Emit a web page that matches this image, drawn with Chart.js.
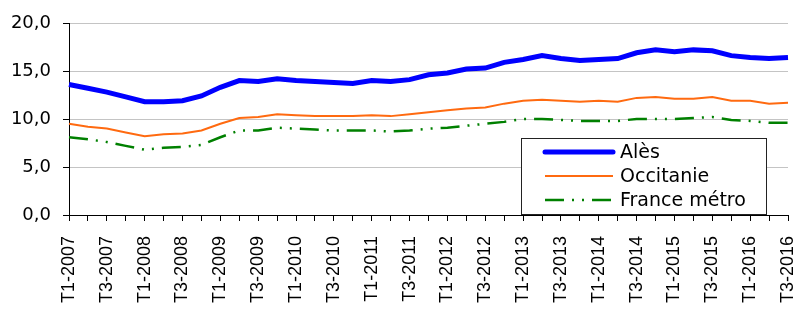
<!DOCTYPE html>
<html>
<head>
<meta charset="utf-8">
<script src="https://cdn.jsdelivr.net/npm/chart.js@4/dist/chart.umd.min.js"></script>
<style>
  html, body { margin: 0; padding: 0; background: #fff; }
  #wrap { width: 797px; height: 309px; }
</style>
</head>
<body>
<div id="wrap"><canvas id="chart"></canvas></div>
<script>
const categories = [
  "T1-2007", "T2-2007", "T3-2007", "T4-2007",
  "T1-2008", "T2-2008", "T3-2008", "T4-2008",
  "T1-2009", "T2-2009", "T3-2009", "T4-2009",
  "T1-2010", "T2-2010", "T3-2010", "T4-2010",
  "T1-2011", "T2-2011", "T3-2011", "T4-2011",
  "T1-2012", "T2-2012", "T3-2012", "T4-2012",
  "T1-2013", "T2-2013", "T3-2013", "T4-2013",
  "T1-2014", "T2-2014", "T3-2014", "T4-2014",
  "T1-2015", "T2-2015", "T3-2015", "T4-2015",
  "T1-2016", "T2-2016", "T3-2016"
];

const ales = [
  13.6, 13.2, 12.8, 12.3, 11.8, 11.8, 11.9, 12.4, 13.3, 14.0,
  13.9, 14.2, 14.0, 13.9, 13.8, 13.7, 14.0, 13.9, 14.1, 14.6,
  14.8, 15.2, 15.3, 15.9, 16.2, 16.6, 16.3, 16.1, 16.2, 16.3,
  16.9, 17.2, 17.0, 17.2, 17.1, 16.6, 16.4, 16.3, 16.4
];
const occitanie = [
  9.5, 9.2, 9.0, 8.6, 8.2, 8.4, 8.5, 8.8, 9.5, 10.1,
  10.2, 10.5, 10.4, 10.3, 10.3, 10.3, 10.4, 10.3, 10.5, 10.7,
  10.9, 11.1, 11.2, 11.6, 11.9, 12.0, 11.9, 11.8, 11.9, 11.8,
  12.2, 12.3, 12.1, 12.1, 12.3, 11.9, 11.9, 11.6, 11.7
];
const franceMetro = [
  8.1, 7.9, 7.6, 7.2, 6.8, 7.0, 7.1, 7.3, 8.1, 8.8,
  8.8, 9.1, 9.0, 8.9, 8.8, 8.8, 8.8, 8.7, 8.8, 9.0,
  9.1, 9.3, 9.5, 9.7, 10.0, 10.0, 9.9, 9.8, 9.8, 9.8,
  10.0, 10.0, 10.0, 10.1, 10.2, 9.9, 9.8, 9.6, 9.6
];
const yTicks = [0, 5, 10, 15, 20];

// legend drawn inside the plot, bottom right, like the original
const legendBox = {
  id: "legendBox",
  afterDatasetsDraw(chart) {
    const ctx = chart.ctx;
    const ca = chart.chartArea;
    const x = ca.right - 267;
    const y = ca.top + 115;
    const w = 245;
    const h = 76;
    ctx.save();
    ctx.fillStyle = "#fff";
    ctx.fillRect(x, y, w, h);
    ctx.strokeStyle = "#222";
    ctx.lineWidth = 1;
    ctx.strokeRect(x + 0.5, y + 0.5, w, h);
    ctx.font = "19px 'DejaVu Sans'";
    ctx.textBaseline = "middle";
    chart.data.datasets.forEach((ds, i) => {
      const ry = y + 14 + i * 24;
      ctx.beginPath();
      ctx.strokeStyle = ds.borderColor;
      ctx.lineWidth = ds.borderWidth;
      ctx.lineCap = i === 0 ? "round" : "butt";
      ctx.setLineDash(ds.borderDash || []);
      ctx.moveTo(x + 24, ry);
      ctx.lineTo(x + 92, ry);
      ctx.stroke();
      ctx.setLineDash([]);
      ctx.fillStyle = "#000";
      ctx.fillText(ds.label, x + 99, ry + 1);
    });
    ctx.restore();
  }
};

const ctx = document.getElementById("chart").getContext("2d");
new Chart(ctx, {
  type: "line",
  data: {
    labels: categories,
    datasets: [
      { label: "Alès", data: ales, borderColor: "#0000ff", borderWidth: 5, pointRadius: 0, tension: 0 },
      { label: "Occitanie", data: occitanie, borderColor: "#ff6a10", borderWidth: 2, pointRadius: 0, tension: 0 },
      { label: "France métro", data: franceMetro, borderColor: "#008000", borderWidth: 2.5, borderDash: [19, 8, 2, 8, 2, 8], pointRadius: 0, tension: 0 }
    ]
  },
  options: {
    responsive: true,
    maintainAspectRatio: false,
    animation: false,
    layout: { padding: { top: 23, right: 9, left: 0, bottom: 0 } },
    plugins: {
      legend: { display: false },
      tooltip: { enabled: false }
    },
    scales: {
      x: {
        type: "category",
        offset: false,
        afterFit(scale) {
          scale.height = 94;
          scale.paddingLeft = 0;
          scale.paddingRight = 0;
        },
        grid: { drawOnChartArea: false, color: "#000", tickLength: 6 },
        border: { color: "#000", width: 1 },
        ticks: {
          autoSkip: false,
          maxRotation: 90,
          minRotation: 90,
          padding: 15,
          color: "#000",
          font: { family: "'Liberation Sans', Arial", size: 18 },
          callback(v, i) { return i % 2 === 0 ? categories[i] : ""; }
        }
      },
      y: {
        min: yTicks[0],
        max: yTicks[yTicks.length - 1],
        afterFit(scale) { scale.width = 69; },
        afterBuildTicks(scale) { scale.ticks = yTicks.map(v => ({ value: v })); },
        grid: {
          color: "#c4c4c4",
          borderDash: [1, 1],
          tickColor: "#000",
          tickBorderDash: [],
          tickLength: 6
        },
        border: { color: "#000", width: 1 },
        ticks: {
          padding: 12,
          color: "#000",
          font: { family: "'DejaVu Sans'", size: 18 },
          callback(v) { return v.toFixed(1).replace(".", ","); }
        }
      }
    }
  },
  plugins: [legendBox]
});
</script>
</body>
</html>
